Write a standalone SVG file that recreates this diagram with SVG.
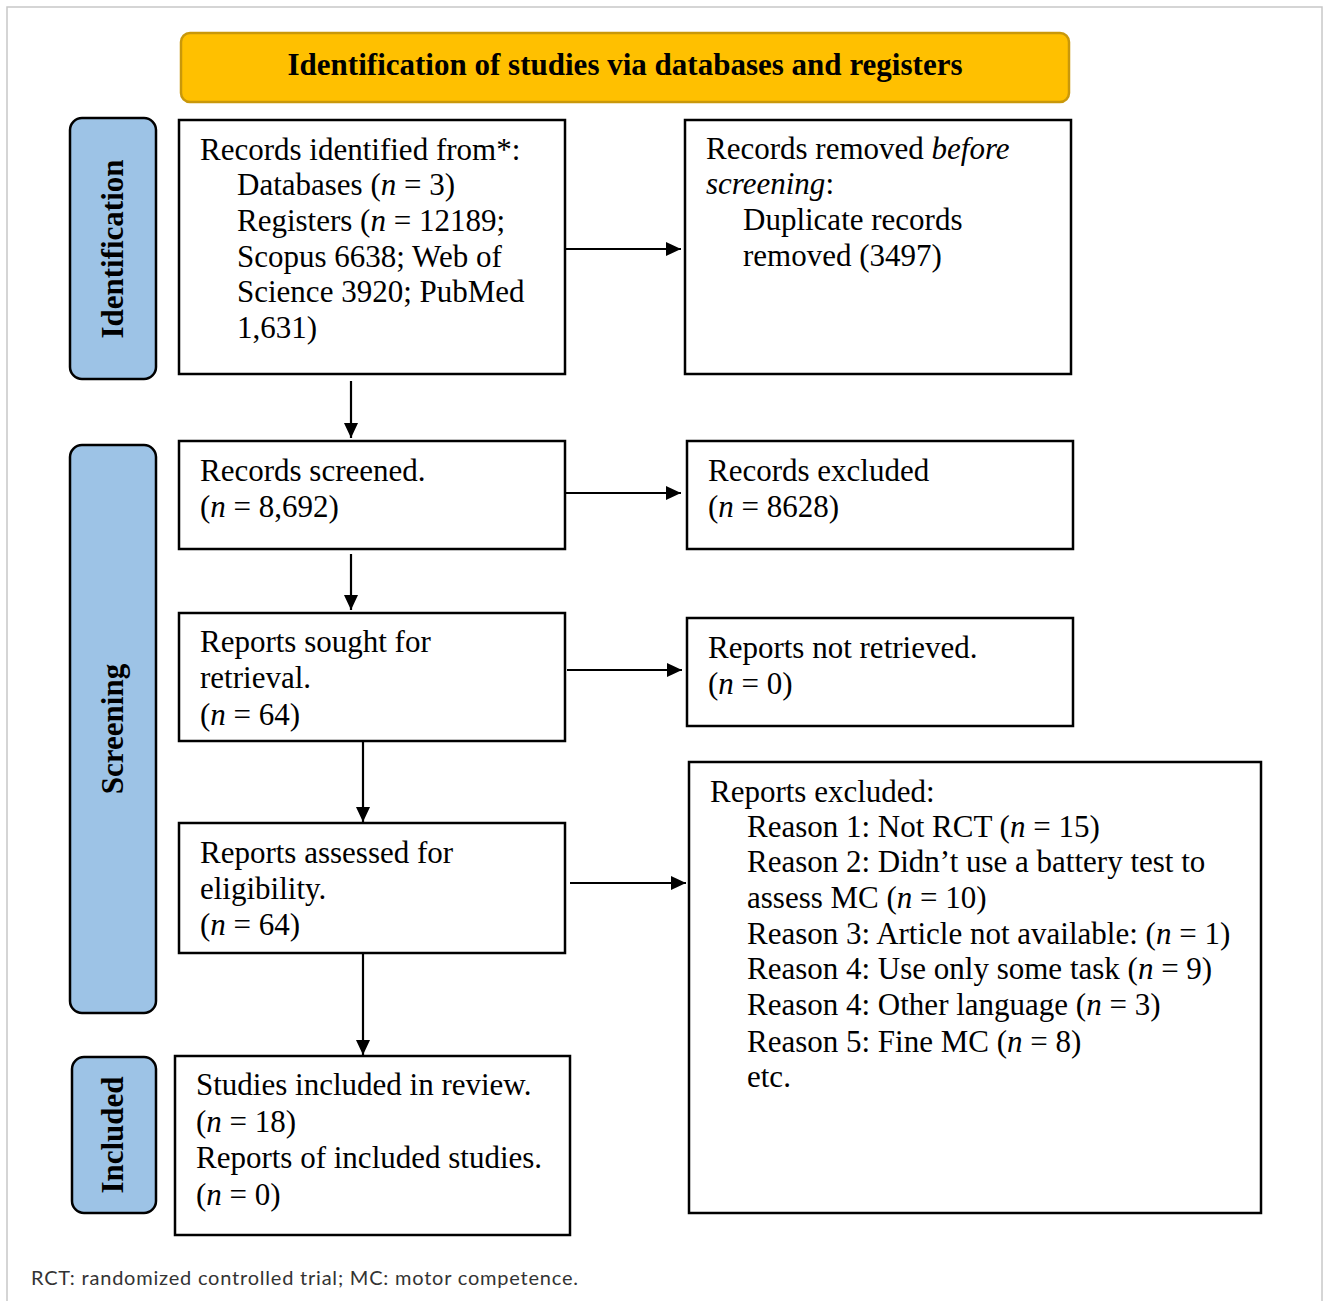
<svg xmlns="http://www.w3.org/2000/svg" width="1325" height="1301" viewBox="0 0 1325 1301">
<style>
.box{fill:#fff;stroke:#000;stroke-width:2.5}
.side{fill:#9DC3E6;stroke:#000;stroke-width:2.5}
.t{font-family:"Liberation Serif","Times New Roman",serif;font-size:31px;fill:#000}
.b{font-family:"Liberation Serif","Times New Roman",serif;font-size:31px;font-weight:bold;fill:#000}
.i{font-style:italic}
.edge{stroke:#000;stroke-width:2.2;fill:none;marker-end:url(#ah)}
.foot{font-family:Lato,"Open Sans",sans-serif;font-size:20px;fill:#333}
</style>
<defs>
<marker id="ah" markerUnits="userSpaceOnUse" markerWidth="16" markerHeight="14" refX="15" refY="7" orient="auto">
<path d="M0,0 L15,7 L0,14 z" fill="#000"/>
</marker>
</defs>
<rect x="0" y="0" width="1325" height="1301" fill="#fff"/>
<rect x="7" y="7" width="1315" height="1310" fill="none" stroke="#c8c8c8" stroke-width="1.5"/>

<g id="title">
<rect x="181" y="33" width="888" height="69" rx="9" fill="#FFC000" stroke="#C9980A" stroke-width="2.5"/>
<text class="b" x="625" y="75" text-anchor="middle" textLength="675">Identification of studies via databases and registers</text>
</g>

<g id="lbl-identification">
<rect class="side" x="70" y="118" width="86" height="261" rx="12"/>
<text class="b" transform="translate(123,249) rotate(-90)" text-anchor="middle">Identification</text>
</g>
<g id="lbl-screening">
<rect class="side" x="70" y="445" width="86" height="568" rx="12"/>
<text class="b" transform="translate(123,729) rotate(-90)" text-anchor="middle">Screening</text>
</g>
<g id="lbl-included">
<rect class="side" x="72" y="1057" width="84" height="156" rx="12"/>
<text class="b" transform="translate(123,1135) rotate(-90)" text-anchor="middle">Included</text>
</g>

<g id="n-identified">
<rect class="box" x="179" y="120" width="386" height="254"/>
<text class="t" x="200" y="160">Records identified from*:</text>
<text class="t" x="237" y="195">Databases (<tspan class="i">n</tspan> = 3)</text>
<text class="t" x="237" y="231">Registers (<tspan class="i">n</tspan> = 12189;</text>
<text class="t" x="237" y="267">Scopus 6638; Web of</text>
<text class="t" x="237" y="302">Science 3920; PubMed</text>
<text class="t" x="237" y="338">1,631)</text>
</g>

<g id="n-removed">
<rect class="box" x="685" y="120" width="386" height="254"/>
<text class="t" x="706" y="159">Records removed <tspan class="i">before</tspan></text>
<text class="t" x="706" y="194"><tspan class="i">screening</tspan>:</text>
<text class="t" x="743" y="230">Duplicate records</text>
<text class="t" x="743" y="266">removed (3497)</text>
</g>

<g id="n-screened">
<rect class="box" x="179" y="441" width="386" height="108"/>
<text class="t" x="200" y="481">Records screened.</text>
<text class="t" x="200" y="517">(<tspan class="i">n</tspan> = 8,692)</text>
</g>

<g id="n-excluded">
<rect class="box" x="687" y="441" width="386" height="108"/>
<text class="t" x="708" y="481">Records excluded</text>
<text class="t" x="708" y="517">(<tspan class="i">n</tspan> = 8628)</text>
</g>

<g id="n-sought">
<rect class="box" x="179" y="613" width="386" height="128"/>
<text class="t" x="200" y="652">Reports sought for</text>
<text class="t" x="200" y="688">retrieval.</text>
<text class="t" x="200" y="725">(<tspan class="i">n</tspan> = 64)</text>
</g>

<g id="n-notretrieved">
<rect class="box" x="687" y="618" width="386" height="108"/>
<text class="t" x="708" y="658">Reports not retrieved.</text>
<text class="t" x="708" y="694">(<tspan class="i">n</tspan> = 0)</text>
</g>

<g id="n-assessed">
<rect class="box" x="179" y="823" width="386" height="130"/>
<text class="t" x="200" y="863">Reports assessed for</text>
<text class="t" x="200" y="899">eligibility.</text>
<text class="t" x="200" y="935">(<tspan class="i">n</tspan> = 64)</text>
</g>

<g id="n-reportsexcluded">
<rect class="box" x="689" y="762" width="572" height="451"/>
<text class="t" x="710" y="802">Reports excluded:</text>
<text class="t" x="747" y="837">Reason 1: Not RCT (<tspan class="i">n</tspan> = 15)</text>
<text class="t" x="747" y="872">Reason 2: Didn’t use a battery test to</text>
<text class="t" x="747" y="908">assess MC (<tspan class="i">n</tspan> = 10)</text>
<text class="t" x="747" y="944">Reason 3: Article not available: (<tspan class="i">n</tspan> = 1)</text>
<text class="t" x="747" y="979">Reason 4: Use only some task (<tspan class="i">n</tspan> = 9)</text>
<text class="t" x="747" y="1015">Reason 4: Other language (<tspan class="i">n</tspan> = 3)</text>
<text class="t" x="747" y="1052">Reason 5: Fine MC (<tspan class="i">n</tspan> = 8)</text>
<text class="t" x="747" y="1087">etc.</text>
</g>

<g id="n-included">
<rect class="box" x="175" y="1056" width="395" height="179"/>
<text class="t" x="196" y="1095">Studies included in review.</text>
<text class="t" x="196" y="1132">(<tspan class="i">n</tspan> = 18)</text>
<text class="t" x="196" y="1168">Reports of included studies.</text>
<text class="t" x="196" y="1205">(<tspan class="i">n</tspan> = 0)</text>
</g>

<g id="connectors">
<line class="edge" x1="566" y1="249" x2="681" y2="249"/>
<line class="edge" x1="351" y1="381" x2="351" y2="438"/>
<line class="edge" x1="566" y1="493" x2="681" y2="493"/>
<line class="edge" x1="351" y1="554" x2="351" y2="610"/>
<line class="edge" x1="567" y1="670" x2="682" y2="670"/>
<line class="edge" x1="363" y1="741" x2="363" y2="822"/>
<line class="edge" x1="570" y1="883" x2="686" y2="883"/>
<line class="edge" x1="363" y1="953" x2="363" y2="1055"/>
</g>

<text class="foot" x="31" y="1285" textLength="547">RCT: randomized controlled trial; MC: motor competence.</text>
</svg>
